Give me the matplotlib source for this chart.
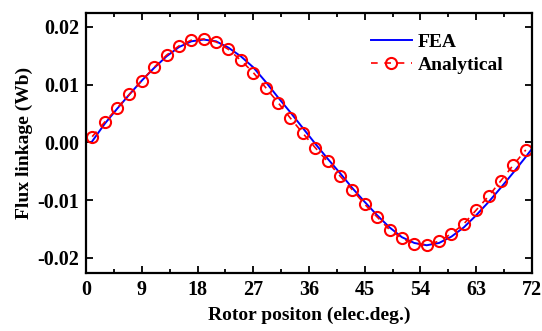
import numpy as np
import matplotlib.pyplot as plt
from matplotlib.ticker import MultipleLocator, FormatStrFormatter

plt.rcParams['font.family'] = 'Liberation Serif'
plt.rcParams['font.weight'] = 'bold'
plt.rcParams['axes.unicode_minus'] = False

# DATA
ana_x = [1, 3, 5, 7, 9, 11, 13, 15, 17, 19, 21, 23, 25, 27, 29, 31, 33, 35,
         37, 39, 41, 43, 45, 47, 49, 51, 53, 55, 57, 59, 61, 63, 65, 67, 69, 71]
ana_y = [0.0010, 0.0035, 0.0059, 0.0083, 0.0107, 0.0130, 0.0151, 0.0167, 0.0177,
         0.0179, 0.0174, 0.0161, 0.0142, 0.0121, 0.0095, 0.0069, 0.0042, 0.0016,
         -0.0009, -0.0033, -0.0058, -0.0082, -0.0107, -0.0129, -0.0151, -0.0166,
         -0.0176, -0.0177, -0.0171, -0.0158, -0.0141, -0.0117, -0.0093, -0.0066,
         -0.0039, -0.0013]

fea_x = [1, 3, 5, 7, 9, 11, 13, 15, 17, 19, 21, 23, 25, 27, 29, 31, 33, 35,
         37, 39, 41, 43, 45, 47, 49, 51, 53, 55, 57, 59, 61, 63, 65, 67, 69, 71, 72]
fea_y = [0.0002, 0.0032, 0.0058, 0.0083, 0.0107, 0.0129, 0.0149, 0.0165, 0.0175,
         0.0178, 0.0175, 0.0164, 0.0149, 0.0130, 0.0105, 0.0078, 0.0052, 0.0025,
         -0.0002, -0.0028, -0.0053, -0.0079, -0.0103, -0.0126, -0.0147, -0.0164,
         -0.0174, -0.0178, -0.0174, -0.0163, -0.0147, -0.0126, -0.0103, -0.0078,
         -0.0052, -0.0025, -0.0011]

x_ticks = [0, 9, 18, 27, 36, 45, 54, 63, 72]
y_ticks = [-0.02, -0.01, 0.00, 0.01, 0.02]

fig = plt.figure(figsize=(5.42, 3.31), dpi=100)
ax = fig.add_axes([0.1587, 0.1752, 0.8228, 0.7855])

ax.plot(fea_x, fea_y, color='#0000ff', lw=1.4, label='FEA')
ax.plot(ana_x, ana_y, color='#ff0000', lw=1.2, ls=(0, (4, 4)), marker='o',
        ms=8, mfc='none', mec='#ff0000', mew=1.5, label='Analytical')

ax.set_xlim(0, 72)
ax.set_ylim(-0.0226, 0.0224)
ax.set_xticks(x_ticks)
ax.set_yticks(y_ticks)
ax.xaxis.set_minor_locator(MultipleLocator(4.5))
ax.yaxis.set_major_formatter(FormatStrFormatter('%.2f'))

ax.tick_params(which='both', direction='in', top=True, right=True,
               labelsize=14.5, width=1.3)
ax.tick_params(which='major', length=5, pad=5)
ax.tick_params(which='minor', length=3)
for s in ax.spines.values():
    s.set_linewidth(1.6)

ax.set_xlabel('Rotor positon (elec.deg.)', fontsize=14, fontweight='bold', labelpad=5)
ax.set_ylabel('Flux linkage (Wb)', fontsize=14, fontweight='bold', labelpad=3)

leg = ax.legend(loc='upper right', frameon=False, fontsize=14,
                handlelength=2.1, handletextpad=0.3, labelspacing=0.3,
                bbox_to_anchor=(0.975, 0.99))

fig.savefig('out.png', dpi=100)
